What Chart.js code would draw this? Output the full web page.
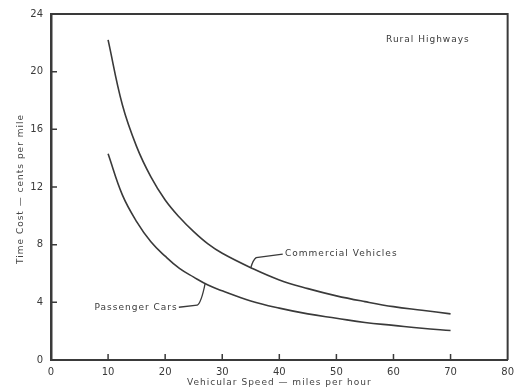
<!DOCTYPE html>
<html>
<head>
<meta charset="utf-8">
<script src="https://cdn.jsdelivr.net/npm/chart.js@4.4.0/dist/chart.umd.min.js"></script>
<style>
  html, body { margin: 0; padding: 0; background: #fff; }
  #wrap { width: 520px; height: 391px; }
</style>
</head>
<body>
<div id="wrap"><canvas id="timeCost" width="520" height="391"></canvas></div>
<script>
// values (cents per mile at each speed)
const speeds = [10, 12.5, 15, 17.5, 20, 22.5, 25, 27.5, 30, 35, 40, 45, 50, 55, 60, 65, 70];
const commercialCost = [22.2, 17.7, 14.8, 12.7, 11.1, 9.9, 8.9, 8.05, 7.4, 6.4, 5.55, 4.95, 4.45, 4.05, 3.7, 3.45, 3.2];
const passengerCost = [14.3, 11.45, 9.6, 8.2, 7.2, 6.35, 5.75, 5.2, 4.8, 4.1, 3.6, 3.2, 2.9, 2.6, 2.4, 2.2, 2.05];
const xTicks = [0, 10, 20, 30, 40, 50, 60, 70, 80];
const yTicks = [0, 4, 8, 12, 16, 20, 24];
const xTitle = 'Vehicular Speed — miles per hour';
const yTitle = 'Time Cost — cents per mile';

const ink = '#3a3a3a';
const toPoints = vals => speeds.map((s, i) => ({x: s, y: vals[i]}));

// frame, inward tick marks, spaced-out axis titles and the lettered notes
const framePlugin = {
    id: 'frameAndNotes',
    afterDraw(chart) {
        const {ctx, chartArea: a} = chart;
        const xs = chart.scales.x, ys = chart.scales.y;
        ctx.save();
        ctx.strokeStyle = ink;
        ctx.lineWidth = 2;
        ctx.beginPath();
        ctx.moveTo(a.left, a.top);
        ctx.lineTo(a.right, a.top);
        ctx.lineTo(a.right, a.bottom);
        ctx.stroke();

        ctx.lineWidth = 1.5;
        ctx.beginPath();
        xTicks.slice(1, -1).forEach(v => {
            const px = xs.getPixelForValue(v);
            ctx.moveTo(px, a.bottom);
            ctx.lineTo(px, a.bottom - 6);
        });
        yTicks.slice(1, -1).forEach(v => {
            const py = ys.getPixelForValue(v);
            ctx.moveTo(a.left, py);
            ctx.lineTo(a.left + 6, py);
        });
        ctx.stroke();

        const P = (x, y) => [xs.getPixelForValue(x), ys.getPixelForValue(y)];

        // leader lines
        ctx.lineWidth = 1.3;
        let p1 = P(35, 6.4), p2 = P(35.6, 7.1), p3 = P(40.6, 7.35);
        ctx.beginPath();
        ctx.moveTo(p1[0], p1[1]);
        ctx.quadraticCurveTo(p2[0] - 1, p2[1] + 2, p2[0] + 2, p2[1]);
        ctx.lineTo(p3[0], p3[1]);
        ctx.stroke();

        p1 = P(22.4, 3.66); p2 = P(25.6, 3.8); p3 = P(27, 5.3);
        ctx.beginPath();
        ctx.moveTo(p1[0], p1[1]);
        ctx.lineTo(p2[0], p2[1]);
        ctx.quadraticCurveTo(p2[0] + 4, p2[1] - 2, p3[0], p3[1]);
        ctx.stroke();

        ctx.fillStyle = ink;
        ctx.font = '9px "DejaVu Sans"';
        ctx.letterSpacing = '1px';
        ctx.textBaseline = 'middle';
        ctx.textAlign = 'left';
        let t = P(41, 7.35);
        ctx.fillText('Commercial Vehicles', t[0], t[1]);
        t = P(58.7, 22.2);
        ctx.fillText('Rural Highways', t[0], t[1]);
        ctx.textAlign = 'right';
        t = P(22.2, 3.66);
        ctx.fillText('Passenger Cars', t[0], t[1]);

        // axis titles
        ctx.fillStyle = '#444';
        ctx.textAlign = 'center';
        ctx.fillText(xTitle, (a.left + a.right) / 2, 383);
        ctx.translate(21, (a.top + a.bottom) / 2 + 2);
        ctx.rotate(-Math.PI / 2);
        ctx.fillText(yTitle, 0, 0);
        ctx.restore();
    }
};

new Chart(document.getElementById('timeCost').getContext('2d'), {
    type: 'line',
    data: {
        datasets: [
            {label: 'Commercial Vehicles', data: toPoints(commercialCost)},
            {label: 'Passenger Cars', data: toPoints(passengerCost)}
        ]
    },
    options: {
        responsive: false,
        animation: false,
        layout: {padding: {top: 10, right: 3, left: 0, bottom: 0}},
        elements: {
            line: {borderColor: ink, borderWidth: 1.6, tension: 0.4, fill: false},
            point: {radius: 0}
        },
        plugins: {legend: {display: false}, tooltip: {enabled: false}},
        scales: {
            x: {
                type: 'linear', min: 0, max: 80,
                afterFit: s => { s.height = 31; },
                afterBuildTicks: s => { s.ticks = xTicks.map(v => ({value: v})); },
                grid: {display: false, drawTicks: false},
                border: {display: true, color: ink, width: 2},
                ticks: {color: ink, padding: 6, font: {family: 'DejaVu Sans', size: 10}},
                title: {display: false, text: xTitle}
            },
            y: {
                type: 'linear', min: 0, max: 24,
                afterFit: s => { s.width = 51; },
                afterBuildTicks: s => { s.ticks = yTicks.map(v => ({value: v})); },
                grid: {display: false, drawTicks: false},
                border: {display: true, color: ink, width: 2.5},
                ticks: {color: ink, padding: 8, font: {family: 'DejaVu Sans', size: 10}},
                title: {display: false, text: yTitle}
            }
        }
    },
    plugins: [framePlugin]
});
</script>
</body>
</html>
